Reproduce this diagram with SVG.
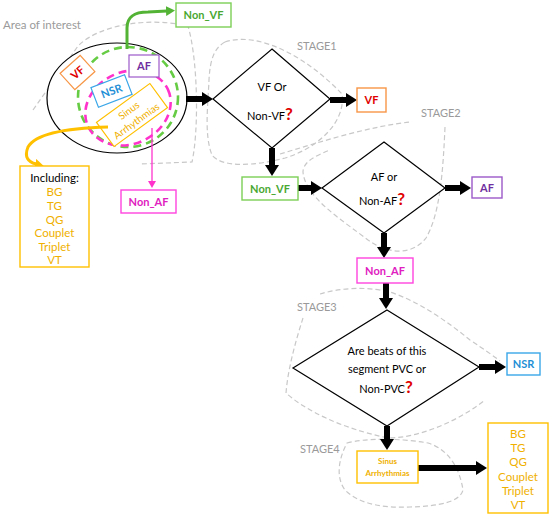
<svg xmlns="http://www.w3.org/2000/svg" width="550" height="516" viewBox="0 0 550 516">
<style>
text{font-family:Lato,"Open Sans","Liberation Sans",sans-serif;text-anchor:middle}
.blob{fill:none;stroke:#c8c8c8;stroke-width:1.2;stroke-dasharray:5 3}
.stage{fill:#9a9a9a;font-size:11px;text-anchor:start}
.dia{fill:#fff;stroke:#000;stroke-width:1.2}
.dt{fill:#000;font-size:11px}
.q{fill:#e00000;font-size:17px;font-weight:bold}
.box{fill:#fff;stroke-width:1.4}
.bl{font-size:11px;font-weight:bold}
.big{stroke:#000;stroke-width:6;fill:none}
.org{fill:#f0b000;font-size:11.5px}
</style>
<defs>
<marker id="ah" markerUnits="userSpaceOnUse" markerWidth="11" markerHeight="14" refX="0" refY="7" orient="auto"><path d="M0,0 L11,7 L0,14 Z" fill="#000"/></marker>
<marker id="ahg" markerUnits="userSpaceOnUse" markerWidth="9" markerHeight="10" refX="1" refY="5" orient="auto"><path d="M0,0 L9,5 L0,10 Z" fill="#52b334"/></marker>
<marker id="aho" markerUnits="userSpaceOnUse" markerWidth="9" markerHeight="10" refX="1" refY="5" orient="auto"><path d="M0,0 L9,5 L0,10 Z" fill="#ffc000"/></marker>
<marker id="ahm" markerUnits="userSpaceOnUse" markerWidth="7" markerHeight="8" refX="1" refY="4" orient="auto"><path d="M0,0 L7,4 L0,8 Z" fill="#ff33cc"/></marker>
</defs>

<g id="blobs">
<path class="blob" d="M33,110 L78,46 C100,24 150,17 188,26 C198,60 199,130 192,162 L140,164"/>
<path class="blob" d="M225,42 C262,30 312,62 342,94 C346,122 318,148 285,158 C255,166 222,168 212,155 C204,135 208,105 209,80 C210,60 214,48 225,42 Z"/>
<path class="blob" d="M280,154 C320,142 370,126 411,122 M445,127 C443,172 440,214 426,238 C414,254 390,256 368,240 C345,222 305,198 303,172 C303,162 315,156 330,150"/>
<path class="blob" d="M320,294 C340,288 365,286 390,292 C420,302 448,322 470,340 C485,350 495,357 500,361 M303,318 C296,340 288,368 286,393 C305,410 340,428 388,438 C420,438 460,420 485,400"/>
<path class="blob" d="M347,443 C365,438 400,438 428,443 C450,450 460,470 463,490 C460,502 440,506 410,507 C385,508 360,505 345,490 C336,478 338,460 347,443 Z"/>
<text class="stage" x="3" y="29" style="font-size:11.5px">Area of interest</text>
<text class="stage" x="297" y="50">STAGE1</text>
<text class="stage" x="421" y="117">STAGE2</text>
<text class="stage" x="297" y="311">STAGE3</text>
<text class="stage" x="300" y="453">STAGE4</text>
</g>

<g id="area">
<ellipse cx="117" cy="98" rx="70" ry="55" fill="#fff" stroke="#000" stroke-width="1.2"/>
<ellipse cx="128" cy="97" rx="50" ry="50" fill="none" stroke="#66cc44" stroke-width="2.6" stroke-dasharray="8 5"/>
<ellipse cx="128" cy="108" rx="44" ry="36" transform="rotate(-25 128 108)" fill="none" stroke="#ff33cc" stroke-width="2.6" stroke-dasharray="8 5"/>
<g id="area-vf" transform="translate(77.5 72.5) rotate(-42)">
<rect x="-13.5" y="-11" width="27" height="22" fill="#fff" stroke="#f79646" stroke-width="1.2"/>
<text class="bl" y="4" fill="#e00000">VF</text>
</g>
<g id="area-af">
<rect x="129" y="55" width="30" height="22" fill="#fff" stroke="#9b59c8" stroke-width="1.2"/>
<text class="bl" x="144" y="70" fill="#7030a0">AF</text>
</g>
<g id="area-nsr" transform="translate(111.5 91) rotate(-21)">
<rect x="-18" y="-10.5" width="36" height="21" fill="#fff" stroke="#3aa6e8" stroke-width="1.2"/>
<text class="bl" y="4" fill="#1f8fd6">NSR</text>
</g>
<g id="area-sinus" transform="translate(132 115) rotate(-36)">
<rect x="-33" y="-15" width="66" height="30" fill="#fff" stroke="#ffc000" stroke-width="1.2"/>
<text y="-2" fill="#f0b000" style="font-size:10px">Sinus</text>
<text y="11" fill="#f0b000" style="font-size:10px">Arrhythmias</text>
</g>
</g>

<g id="connectors">
<path d="M127,49 L127,28 C127,16 135,12 148,12 L167,11" fill="none" stroke="#52b334" stroke-width="3" marker-end="url(#ahg)"/>
<path d="M108,127 C70,128 36,133 28,147 C24,157 28,162 36,164" fill="none" stroke="#ffc000" stroke-width="3" marker-end="url(#aho)"/>
<path d="M152,128 L152,182" fill="none" stroke="#ff33cc" stroke-width="1.3" marker-end="url(#ahm)"/>
<line class="big" x1="186" y1="99" x2="202" y2="99" marker-end="url(#ah)"/>
<line class="big" x1="330" y1="100" x2="346" y2="100" marker-end="url(#ah)"/>
<line class="big" x1="272" y1="148" x2="272" y2="165" marker-end="url(#ah)"/>
<line class="big" x1="298" y1="188" x2="311" y2="188" marker-end="url(#ah)"/>
<line class="big" x1="445" y1="188" x2="460" y2="188" marker-end="url(#ah)"/>
<line class="big" x1="384" y1="233" x2="384" y2="247" marker-end="url(#ah)"/>
<line class="big" x1="386" y1="283" x2="386" y2="298" marker-end="url(#ah)"/>
<line class="big" x1="479" y1="367" x2="495" y2="367" marker-end="url(#ah)"/>
<line class="big" x1="387" y1="426" x2="387" y2="439" marker-end="url(#ah)"/>
<line class="big" x1="418" y1="468" x2="476" y2="468" marker-end="url(#ah)"/>
</g>

<g id="nonvf-top">
<rect class="box" x="176" y="3" width="55" height="24" stroke="#7ccf55"/>
<text class="bl" x="203.5" y="19" fill="#4aa832">Non_VF</text>
</g>
<g id="including">
<rect class="box" x="20" y="166" width="69" height="101" stroke="#ffc000"/>
<text x="54.5" y="182" fill="#000" style="font-size:11.5px">Including:</text>
<text class="org" x="54.5" y="196">BG</text>
<text class="org" x="54.5" y="210">TG</text>
<text class="org" x="54.5" y="224">QG</text>
<text class="org" x="54.5" y="237">Couplet</text>
<text class="org" x="54.5" y="251">Triplet</text>
<text class="org" x="54.5" y="264">VT</text>
</g>
<g id="nonaf-left">
<rect class="box" x="121" y="190" width="55" height="23" stroke="#ff44dd"/>
<text class="bl" x="148.5" y="205.5" fill="#e020c0">Non_AF</text>
</g>

<g id="stage1">
<polygon class="dia" points="272,49 330,99 272,148 213,99"/>
<text class="dt" x="272" y="91">VF Or</text>
<text class="dt" x="270" y="120">Non-VF<tspan class="q">?</tspan></text>
</g>
<g id="vf">
<rect class="box" x="357" y="88" width="29" height="24" stroke="#f79646"/>
<text class="bl" x="371.5" y="104" fill="#e00000">VF</text>
</g>
<g id="nonvf">
<rect class="box" x="242" y="177" width="56" height="23" stroke="#7ccf55"/>
<text class="bl" x="270" y="192.5" fill="#4aa832">Non_VF</text>
</g>
<g id="stage2">
<polygon class="dia" points="384,142 445,188 384,233 322,188"/>
<text class="dt" x="384" y="181">AF or</text>
<text class="dt" x="382" y="205">Non-AF<tspan class="q">?</tspan></text>
</g>
<g id="af">
<rect class="box" x="472" y="177" width="30" height="21" stroke="#9b59c8"/>
<text class="bl" x="487" y="192" fill="#7030a0">AF</text>
</g>
<g id="nonaf">
<rect class="box" x="357" y="258" width="56" height="25" stroke="#ff44dd"/>
<text class="bl" x="385" y="274.5" fill="#e020c0">Non_AF</text>
</g>
<g id="stage3">
<polygon class="dia" points="387,310 479,367 387,426 293,368"/>
<text class="dt" x="387" y="355">Are beats of this</text>
<text class="dt" x="387" y="373">segment PVC or</text>
<text class="dt" x="386" y="393">Non-PVC<tspan class="q">?</tspan></text>
</g>
<g id="nsr">
<rect class="box" x="507" y="353" width="33" height="22" stroke="#3aa6e8"/>
<text class="bl" x="523.5" y="368" fill="#1f8fd6">NSR</text>
</g>
<g id="sinus">
<rect class="box" x="357" y="451" width="61" height="32" stroke="#ffc000"/>
<text x="387.5" y="464" fill="#f0b000" style="font-size:8px;font-weight:bold">Sinus</text>
<text x="387.5" y="476" fill="#f0b000" style="font-size:8px;font-weight:bold">Arrhythmias</text>
</g>
<g id="types">
<rect class="box" x="488" y="423" width="60" height="90" stroke="#ffc000"/>
<text class="org" x="518" y="438">BG</text>
<text class="org" x="518" y="452">TG</text>
<text class="org" x="518" y="466">QG</text>
<text class="org" x="518" y="481">Couplet</text>
<text class="org" x="518" y="495">Triplet</text>
<text class="org" x="518" y="509">VT</text>
</g>
</svg>
